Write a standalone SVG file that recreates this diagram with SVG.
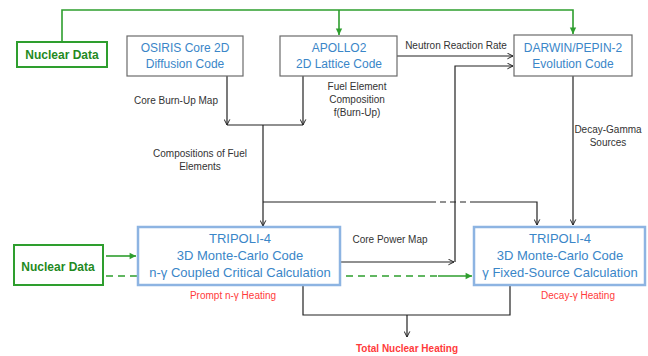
<svg xmlns="http://www.w3.org/2000/svg" width="648" height="356" viewBox="0 0 648 356">
<style>
.box{fill:#fff;stroke:#6b6b6b;stroke-width:1.2}
.tbox{fill:#fff;stroke:#8db4e2;stroke-width:2.5}
.gbox{fill:#fff;stroke:#2e9e2e;stroke-width:2}
.bt{font-family:"Liberation Sans",Arial,sans-serif;font-size:12px;fill:#3a86c8;text-anchor:middle}
.tt{font-family:"Liberation Sans",Arial,sans-serif;font-size:13px;fill:#3a86c8;text-anchor:middle}
.gt{font-family:"Liberation Sans",Arial,sans-serif;font-size:12px;font-weight:bold;fill:#1f8a1f;text-anchor:middle}
.lb{font-family:"Liberation Sans",Arial,sans-serif;font-size:10px;fill:#333;text-anchor:middle}
.rd{font-family:"Liberation Sans",Arial,sans-serif;font-size:10px;fill:#ff3b3b;text-anchor:middle}
.k{fill:none;stroke:#222;stroke-width:1.2}
.g{fill:none;stroke:#2e9e2e;stroke-width:1.6}
</style>
<defs>
<marker id="ak" viewBox="0 0 10 10" refX="9" refY="5" markerWidth="7" markerHeight="7" orient="auto" markerUnits="userSpaceOnUse"><path d="M1,1 L9,5 L1,9" fill="none" stroke="#222" stroke-width="1.4"/></marker>
<marker id="ag" viewBox="0 0 10 10" refX="9" refY="5" markerWidth="8" markerHeight="8" orient="auto" markerUnits="userSpaceOnUse"><path d="M1,1 L9,5 L1,9 Z" fill="#2e9e2e"/></marker>
</defs>
<g id="connectors">
<path class="g" d="M62,42 V10 H573 V34" marker-end="url(#ag)"/>
<path class="g" d="M339,10 V35" marker-end="url(#ag)"/>
<path class="g" d="M106,256 H136" marker-end="url(#ag)"/>
<path class="g" d="M106,276 H440" stroke-dasharray="7,5"/>
<path class="g" d="M438,276 H472" marker-end="url(#ag)"/>
<path class="k" d="M397,56 H513" marker-end="url(#ak)"/>
<path class="k" d="M227,76 V125" marker-end="url(#ak)"/>
<path class="k" d="M303,76 V125" marker-end="url(#ak)"/>
<path class="k" d="M227,125 H303"/>
<path class="k" d="M263,125 V226" marker-end="url(#ak)"/>
<path class="k" d="M263,202 H430"/>
<path class="k" d="M430,202 H470" stroke-dasharray="6,4"/>
<path class="k" d="M470,202 H537 V225" marker-end="url(#ak)"/>
<path class="k" d="M573,76 V225" marker-end="url(#ak)"/>
<path class="k" d="M340,262 H454" marker-end="url(#ak)"/>
<path class="k" d="M455,262 V66 H513" marker-end="url(#ak)"/>
<path class="k" d="M303,285 V315 H510 V285"/>
<path class="k" d="M407,315 V337" marker-end="url(#ak)"/>
</g>
<g id="nuclear-data-top">
<rect class="gbox" x="17" y="42" width="90" height="25"/>
<text class="gt" x="62" y="59">Nuclear Data</text>
</g>
<g id="osiris">
<rect class="box" x="127" y="36" width="116" height="40"/>
<text class="bt" x="185" y="52">OSIRIS Core 2D</text>
<text class="bt" x="185" y="68">Diffusion Code</text>
</g>
<g id="apollo2">
<rect class="box" x="280" y="36" width="117" height="40"/>
<text class="bt" x="339" y="52">APOLLO2</text>
<text class="bt" x="339" y="68">2D Lattice Code</text>
</g>
<g id="darwin">
<rect class="box" x="514" y="35" width="118" height="41"/>
<text class="bt" x="573" y="52">DARWIN/PEPIN-2</text>
<text class="bt" x="573" y="68">Evolution Code</text>
</g>
<g id="tripoli-critical">
<rect class="tbox" x="138" y="227" width="202" height="58"/>
<text class="tt" x="240" y="243">TRIPOLI-4</text>
<text class="tt" x="240" y="260">3D Monte-Carlo Code</text>
<text class="tt" x="240" y="277">n-γ Coupled Critical Calculation</text>
</g>
<g id="tripoli-fixed">
<rect class="tbox" x="474" y="227" width="171" height="58"/>
<text class="tt" x="560" y="243">TRIPOLI-4</text>
<text class="tt" x="560" y="260">3D Monte-Carlo Code</text>
<text class="tt" x="560" y="277">γ Fixed-Source Calculation</text>
</g>
<g id="nuclear-data-bottom">
<rect class="gbox" x="14" y="245" width="89" height="40"/>
<text class="gt" x="58" y="271">Nuclear Data</text>
</g>
<g id="labels">
<text class="lb" x="176" y="104">Core Burn-Up Map</text>
<text class="lb" x="357" y="90">Fuel Element</text>
<text class="lb" x="357" y="103">Composition</text>
<text class="lb" x="357" y="116">f(Burn-Up)</text>
<text class="lb" x="456" y="49">Neutron Reaction Rate</text>
<text class="lb" x="200" y="157">Compositions of Fuel</text>
<text class="lb" x="200" y="170">Elements</text>
<text class="lb" x="608" y="133">Decay-Gamma</text>
<text class="lb" x="608" y="146">Sources</text>
<text class="lb" x="390" y="243">Core Power Map</text>
<text class="rd" x="233" y="299">Prompt n-γ Heating</text>
<text class="rd" x="578" y="299">Decay-γ Heating</text>
<text class="rd" x="407" y="352" font-size="9.5" font-weight="bold">Total Nuclear Heating</text>
</g>
</svg>
